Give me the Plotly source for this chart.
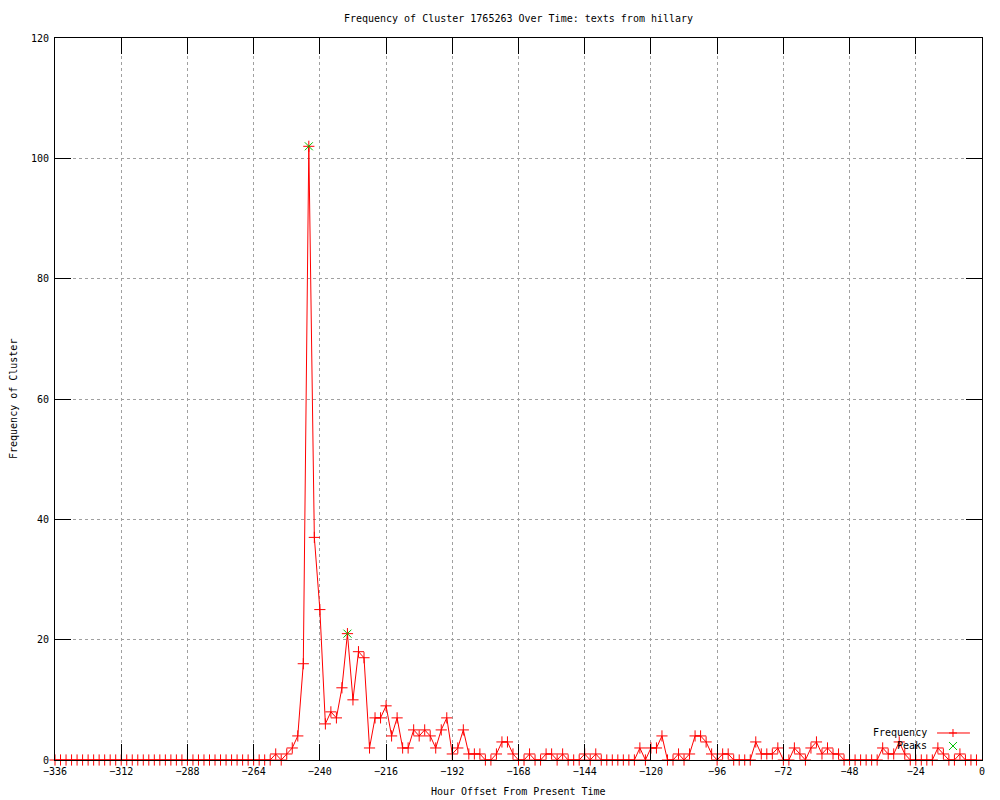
import plotly.graph_objects as go

# Hour offsets (2-hour bins) from -336 to -2
hours = list(range(-336, 0, 2))

# Frequency values, one per bin
frequency = [
    0, 0, 0, 0, 0, 0, 0, 0, 0, 0,      # -336 .. -318
    0, 0, 0, 0, 0, 0, 0, 0, 0, 0,      # -316 .. -298
    0, 0, 0, 0, 0, 0, 0, 0, 0, 0,      # -296 .. -278
    0, 0, 0, 0, 0, 0, 0, 0, 0, 0,      # -276 .. -258
    1, 0, 1, 2, 4, 16, 102, 37, 25, 6,  # -256 .. -238
    8, 7, 12, 21, 10, 18, 17, 2, 7, 7,  # -236 .. -218
    9, 4, 7, 2, 2, 5, 4, 5, 4, 2,       # -216 .. -198
    5, 7, 1, 2, 5, 1, 1, 1, 0, 0,       # -196 .. -178
    1, 3, 3, 1, 0, 0, 1, 0, 0, 1,       # -176 .. -158
    1, 0, 1, 0, 0, 0, 1, 0, 1, 0,       # -156 .. -138
    0, 0, 0, 0, 0, 0, 2, 0, 2, 2,       # -136 .. -118
    4, 0, 0, 1, 0, 1, 4, 4, 3, 1,       # -116 .. -98
    0, 1, 1, 0, 0, 0, 0, 3, 1, 1,       # -96 .. -78
    1, 2, 0, 0, 2, 1, 0, 2, 3, 1,       # -76 .. -58
    2, 1, 1, 0, 0, 0, 0, 0, 0, 0,       # -56 .. -38
    2, 1, 1, 3, 1, 0, 0, 0, 0, 0,       # -36 .. -18
    2, 1, 0, 0, 1, 0, 0, 0,             # -16 .. -2
]

peak_hours = [-244, -230]
peak_values = [102, 21]

x_ticks = list(range(-336, 1, 24))
y_ticks = list(range(0, 121, 20))

FONT = "DejaVu Sans Mono"

fig = go.Figure()
fig.add_trace(go.Scatter(
    x=hours, y=frequency, mode="lines+markers", name="Frequency",
    line=dict(color="#ff0000", width=1),
    marker=dict(symbol="cross-thin", size=8, line=dict(color="#ff0000", width=1)),
    cliponaxis=False, showlegend=False,
))
fig.add_trace(go.Scatter(
    x=peak_hours, y=peak_values, mode="markers", name="Peaks",
    marker=dict(symbol="x-thin", size=8, line=dict(color="#00c000", width=1)),
    cliponaxis=False, showlegend=False,
))

axis_common = dict(
    showline=True, linecolor="black", linewidth=1, mirror="ticks",
    ticks="inside", ticklen=16, tickcolor="black", tickwidth=1,
    showgrid=True, gridcolor="#a0a0a0", gridwidth=1, griddash="dot",
    zeroline=False, tickfont=dict(family=FONT, size=10, color="black"),
)

fig.update_xaxes(range=[-336, 0], tickvals=x_ticks, ticklabelstandoff=2, **axis_common)
fig.update_yaxes(range=[0, 120], tickvals=y_ticks, ticklabelstandoff=3, **axis_common)

# Manual gnuplot-style legend (text left, sample right)
legend_shapes = [
    dict(type="line", xref="paper", yref="paper", x0=0.9515, x1=0.987, y0=0.0374, y1=0.0374,
         line=dict(color="#ff0000", width=1)),
    dict(type="line", xref="paper", yref="paper", xsizemode="pixel", ysizemode="pixel",
         xanchor=0.9687, yanchor=0.0374, x0=-4, x1=4, y0=0, y1=0, line=dict(color="#ff0000", width=1)),
    dict(type="line", xref="paper", yref="paper", xsizemode="pixel", ysizemode="pixel",
         xanchor=0.9687, yanchor=0.0374, x0=0, x1=0, y0=-4, y1=4, line=dict(color="#ff0000", width=1)),
    dict(type="line", xref="paper", yref="paper", xsizemode="pixel", ysizemode="pixel",
         xanchor=0.9687, yanchor=0.0194, x0=-4, x1=4, y0=-4, y1=4, line=dict(color="#00c000", width=1)),
    dict(type="line", xref="paper", yref="paper", xsizemode="pixel", ysizemode="pixel",
         xanchor=0.9687, yanchor=0.0194, x0=-4, x1=4, y0=4, y1=-4, line=dict(color="#00c000", width=1)),
]

annotations = [
    dict(text="Frequency", xref="paper", yref="paper", x=0.943, y=0.0374,
         xanchor="right", yanchor="middle", showarrow=False,
         font=dict(family=FONT, size=10, color="black")),
    dict(text="Peaks", xref="paper", yref="paper", x=0.943, y=0.0194,
         xanchor="right", yanchor="middle", showarrow=False,
         font=dict(family=FONT, size=10, color="black")),
    dict(text="Hour Offset From Present Time", xref="paper", yref="paper", x=0.5, y=-0.0443,
         xanchor="center", yanchor="middle", showarrow=False,
         font=dict(family=FONT, size=10, color="black")),
    dict(text="Frequency of Cluster", xref="paper", yref="paper", x=-0.0453, y=0.5,
         xanchor="center", yanchor="middle", showarrow=False, textangle=-90,
         font=dict(family=FONT, size=10, color="black")),
]

# The page has an 8px body margin, so the figure is sized to fit inside the window
fig.update_layout(
    width=992, height=792,
    margin=dict(l=47, r=18, t=30, b=40),
    paper_bgcolor="white", plot_bgcolor="white",
    title=dict(text="Frequency of Cluster 1765263 Over Time: texts from hillary",
               x=0.5, xref="paper", y=1 - 10 / 792, yanchor="middle",
               font=dict(family=FONT, size=10, color="black")),
    shapes=legend_shapes,
    annotations=annotations,
    showlegend=False,
)

fig.write_html("out.html")
